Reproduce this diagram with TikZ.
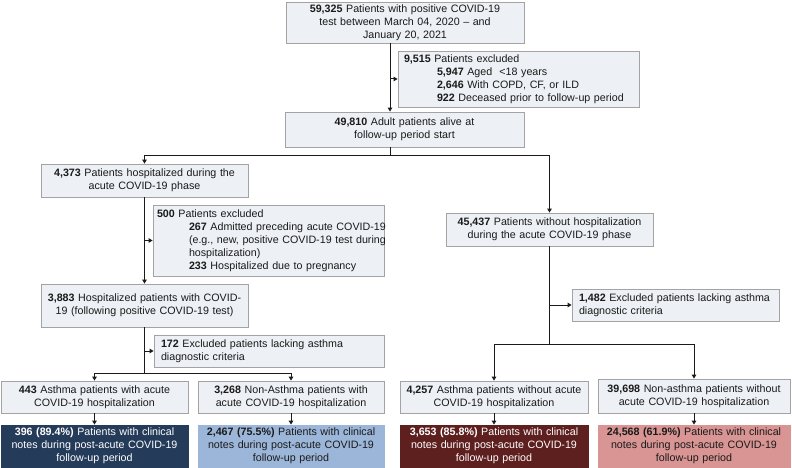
\documentclass[tikz,border=0pt]{standalone}
\usepackage{fontspec}
\setmainfont{Liberation Sans}
\usetikzlibrary{arrows.meta}
\definecolor{boxfill}{HTML}{EDF0F4}
\definecolor{boxline}{HTML}{A3A3A3}
\definecolor{txt}{HTML}{1A1A1A}
\definecolor{navy}{HTML}{243B5A}
\definecolor{lblue}{HTML}{9CB6D9}
\definecolor{dred}{HTML}{5E1F1F}
\definecolor{pink}{HTML}{D89594}
\begin{document}
\begin{tikzpicture}[x=1pt,y=-1pt,
  base/.style={inner sep=0pt, font=\fontsize{10.7}{13}\selectfont, align=center},
  lbox/.style={base, draw=boxline, fill=boxfill, line width=0.8pt, text=txt},
  xbox/.style={lbox, align=left},
  fbox/.style={base, draw=#1, fill=#1, line width=0.8pt},
  conn/.style={line width=1pt, draw=txt},
  arr/.style={conn, -{Triangle[length=4pt,width=4.5pt]}}]
\useasboundingbox (0,0) rectangle (792,468);
% top part
\node[lbox, minimum width=238pt, minimum height=41pt, text width=234pt] (top) at (405,22.5)
  {\textbf{59,325} Patients with positive COVID-19\\test between March 04, 2020 – and\\January 20, 2021};
\node[xbox, minimum width=241pt, minimum height=56pt, text width=229pt] (ex1) at (518.5,79)
  {\textbf{9,515} Patients excluded\\
   \hspace*{33pt}\textbf{5,947} Aged\ \ <18 years\\
   \hspace*{33pt}\textbf{2,646} With COPD, CF, or ILD\\
   \hspace*{33pt}\mbox{\textbf{922} Deceased prior to follow-up period}};
\node[lbox, minimum width=239pt, minimum height=35pt, text width=235pt] (alive) at (404.5,129.5)
  {\textbf{49,810} Adult patients alive at\\follow-up period start};
% left branch
\node[lbox, minimum width=207pt, minimum height=33pt, text width=203pt] (hosp) at (144.5,180.5)
  {\textbf{4,373} Patients hospitalized during the\\acute COVID-19 phase};
\node[xbox, minimum width=231pt, minimum height=71pt, text width=223pt] (ex2) at (268.5,240.5)
  {\textbf{500} Patients excluded\\
   \hspace*{32pt}\mbox{\textbf{267} Admitted preceding acute COVID-19}\\
   \hspace*{32pt}\mbox{(e.g., new, positive COVID-19 test during}\\
   \hspace*{32pt}hospitalization)\\
   \hspace*{32pt}\mbox{\textbf{233} Hospitalized due to pregnancy}};
\node[lbox, minimum width=207pt, minimum height=43pt, text width=203pt] (hosp2) at (144.5,305.5)
  {\mbox{\textbf{3,883} Hospitalized patients with COVID-}\\19 (following positive COVID-19 test)};
\node[xbox, minimum width=230pt, minimum height=32pt, text width=216pt] (ex3) at (269,351)
  {\textbf{172} Excluded patients lacking asthma\\diagnostic criteria};
\node[lbox, minimum width=187pt, minimum height=32pt, text width=183pt] (a1) at (94.5,397)
  {\textbf{443} Asthma patients with acute\\COVID-19 hospitalization};
\node[lbox, minimum width=186pt, minimum height=32pt, text width=182pt] (n1) at (291,397)
  {\textbf{3,268} Non-Asthma patients with\\acute COVID-19 hospitalization};
\node[fbox=navy, text=white, minimum width=187pt, minimum height=42pt, text width=183pt] (a1f) at (94.5,446)
  {\textbf{396 (89.4\%)} Patients with clinical\\notes during post-acute COVID-19\\follow-up period};
\node[fbox=lblue, text=txt, minimum width=186pt, minimum height=42pt, text width=182pt] (n1f) at (291,446)
  {\textbf{2,467 (75.5\%)} Patients with clinical\\notes during post-acute COVID-19\\follow-up period};
% right branch
\node[lbox, minimum width=207pt, minimum height=33pt, text width=203pt] (nohosp) at (549.5,229.5)
  {\textbf{45,437} Patients without hospitalization\\during the acute COVID-19 phase};
\node[xbox, minimum width=207pt, minimum height=32pt, text width=193pt] (ex4) at (675.5,305)
  {\mbox{\textbf{1,482} Excluded patients lacking asthma}\\diagnostic criteria};
\node[lbox, minimum width=188pt, minimum height=32pt, text width=184pt] (a2) at (494,397)
  {\textbf{4,257} Asthma patients without acute\\COVID-19 hospitalization};
\node[lbox, minimum width=192pt, minimum height=34pt, text width=188pt] (n2) at (694,396)
  {\textbf{39,698} Non-asthma patients without\\acute COVID-19 hospitalization};
\node[fbox=dred, text=white, minimum width=188pt, minimum height=42pt, text width=184pt] (a2f) at (494,446)
  {\textbf{3,653 (85.8\%)} Patients with clinical\\notes during post-acute COVID-19\\follow-up period};
\node[fbox=pink, text=txt, minimum width=192pt, minimum height=42pt, text width=188pt] (n2f) at (694,446)
  {\textbf{24,568 (61.9\%)} Patients with clinical\\notes during post-acute COVID-19\\follow-up period};
% connectors
\coordinate (j0) at (390,155);
\coordinate (j1) at (144.5,373);
\coordinate (j2) at (549.5,344);
\draw[arr] (top.south -| j0) -- (alive.north -| j0);
\draw[arr] (ex1.west -| j0) -- (ex1.west);
\draw[conn] (alive.south -| j0) -- (j0);
\draw[arr] (j0) -| (hosp.north);
\draw[arr] (j0) -| (nohosp.north);
\draw[arr] (hosp.south) -- (hosp2.north);
\draw[arr] (ex2.west -| hosp.south) -- (ex2.west);
\draw[conn] (hosp2.south) -- (j1);
\draw[arr] (ex3.west -| j1) -- (ex3.west);
\draw[arr] (j1) -| (a1.north);
\draw[arr] (j1) -| (n1.north);
\draw[arr] (a1.south) -- (a1f.north);
\draw[arr] (n1.south) -- (n1f.north);
\draw[conn] (nohosp.south) -- (j2);
\draw[arr] (ex4.west -| j2) -- (ex4.west);
\draw[arr] (j2) -| (a2.north);
\draw[arr] (j2) -| (n2.north);
\draw[arr] (a2.south) -- (a2f.north);
\draw[arr] (n2.south) -- (n2f.north);
\end{tikzpicture}
\end{document}
